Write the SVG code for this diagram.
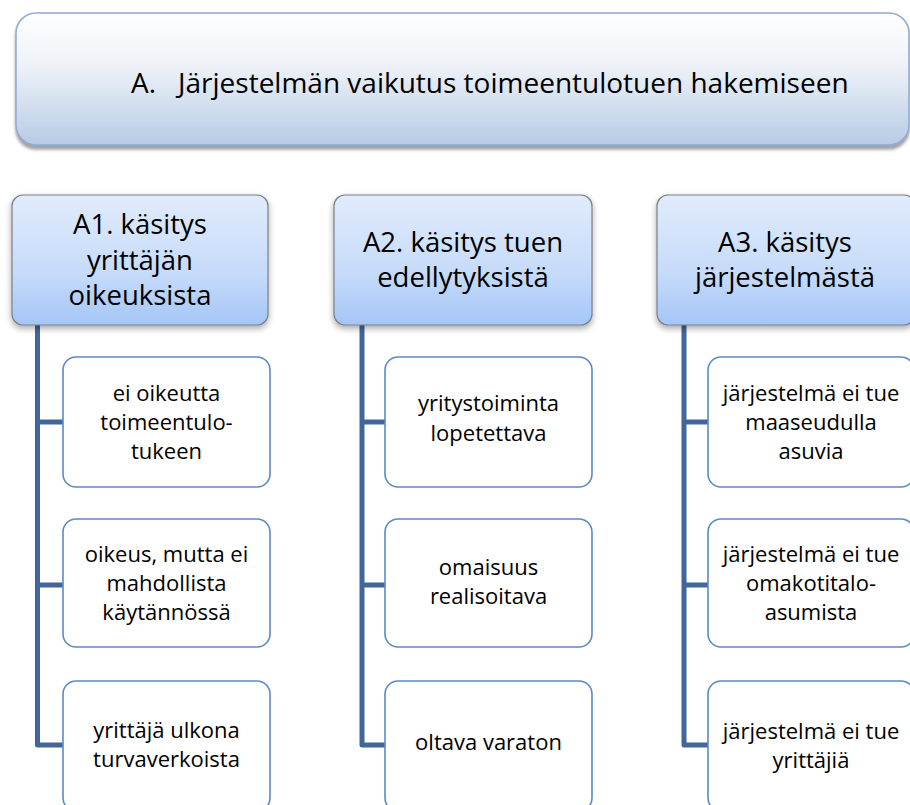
<svg xmlns="http://www.w3.org/2000/svg" width="910" height="805" viewBox="0 0 910 805">
<defs>
<linearGradient id="gBanner" x1="0" y1="0" x2="0" y2="1">
<stop offset="0" stop-color="#ffffff"/>
<stop offset="0.4" stop-color="#eef2f8"/>
<stop offset="1" stop-color="#b7cbe5"/>
</linearGradient>
<linearGradient id="gHead" x1="0" y1="0" x2="0" y2="1">
<stop offset="0" stop-color="#e1ecfc"/>
<stop offset="0.6" stop-color="#c6dbfa"/>
<stop offset="1" stop-color="#a4c6f6"/>
</linearGradient>
<filter id="shBanner" x="-5%" y="-10%" width="110%" height="130%">
<feDropShadow dx="0" dy="4" stdDeviation="1.5" flood-color="#555" flood-opacity="0.55"/>
</filter>
<filter id="shHead" x="-10%" y="-10%" width="120%" height="130%">
<feDropShadow dx="0" dy="3" stdDeviation="3" flood-color="#000" flood-opacity="0.35"/>
</filter>
</defs>
<style>
text{font-family:"Open Sans","Liberation Sans",Arial,sans-serif;fill:#000;text-anchor:middle}
.banner{fill:url(#gBanner);stroke:#8eaad6;stroke-width:1.5;filter:url(#shBanner)}
.head{fill:url(#gHead);stroke:#7a7f88;stroke-width:1.2;filter:url(#shHead)}
.ht{font-size:27.5px}
.child{fill:#fff;stroke:#5b8ac6;stroke-width:1.6}
.ct{font-size:22px}
.conn{fill:none;stroke:#41669c;stroke-width:5;stroke-linejoin:round}
</style>

<g id="banner">
<rect class="banner" x="16" y="13" width="893" height="132" rx="20"/>
<text x="131" y="93" font-size="28" style="text-anchor:start">A.</text>
<text x="178" y="93" font-size="28" style="text-anchor:start">Järjestelmän vaikutus toimeentulotuen hakemiseen</text>
</g>

<g id="connectors">
<path class="conn" d="M37.5 325 V745 H63 M37.5 422 H63 M37.5 585 H63"/>
<path class="conn" d="M362 325 V745 H385 M362 422 H385 M362 585 H385"/>
<path class="conn" d="M684 325 V745 H708 M684 422 H708 M684 585 H708"/>
</g>

<g id="A1">
<rect class="head" x="12" y="195" width="256" height="130" rx="11"/>
<text class="ht" x="140" y="234">A1. käsitys</text>
<text class="ht" x="140" y="270">yrittäjän</text>
<text class="ht" x="140" y="305">oikeuksista</text>
</g>
<g id="A2">
<rect class="head" x="334" y="195" width="258" height="130" rx="11"/>
<text class="ht" x="463" y="252">A2. käsitys tuen</text>
<text class="ht" x="463" y="287">edellytyksistä</text>
</g>
<g id="A3">
<rect class="head" x="657" y="195" width="258" height="130" rx="11"/>
<text class="ht" x="785" y="252">A3. käsitys</text>
<text class="ht" x="785" y="287">järjestelmästä</text>
</g>

<g id="A1-1">
<rect class="child" x="63" y="357" width="207" height="130" rx="13"/>
<text class="ct" x="166.5" y="401">ei oikeutta</text>
<text class="ct" x="166.5" y="430">toimeentulo-</text>
<text class="ct" x="166.5" y="459">tukeen</text>
</g>
<g id="A1-2">
<rect class="child" x="63" y="519" width="207" height="128" rx="13"/>
<text class="ct" x="166.5" y="562">oikeus, mutta ei</text>
<text class="ct" x="166.5" y="591">mahdollista</text>
<text class="ct" x="166.5" y="620">käytännössä</text>
</g>
<g id="A1-3">
<rect class="child" x="63" y="681" width="207" height="130" rx="13"/>
<text class="ct" x="166.5" y="738">yrittäjä ulkona</text>
<text class="ct" x="166.5" y="767">turvaverkoista</text>
</g>

<g id="A2-1">
<rect class="child" x="385" y="357" width="207" height="130" rx="13"/>
<text class="ct" x="488.5" y="411">yritystoiminta</text>
<text class="ct" x="488.5" y="441">lopetettava</text>
</g>
<g id="A2-2">
<rect class="child" x="385" y="519" width="207" height="128" rx="13"/>
<text class="ct" x="488.5" y="575">omaisuus</text>
<text class="ct" x="488.5" y="604">realisoitava</text>
</g>
<g id="A2-3">
<rect class="child" x="385" y="681" width="207" height="130" rx="13"/>
<text class="ct" x="488.5" y="750">oltava varaton</text>
</g>

<g id="A3-1">
<rect class="child" x="708" y="357" width="206" height="130" rx="13"/>
<text class="ct" x="811" y="401">järjestelmä ei tue</text>
<text class="ct" x="811" y="430">maaseudulla</text>
<text class="ct" x="811" y="459">asuvia</text>
</g>
<g id="A3-2">
<rect class="child" x="708" y="519" width="206" height="128" rx="13"/>
<text class="ct" x="811" y="562">järjestelmä ei tue</text>
<text class="ct" x="811" y="591">omakotitalo-</text>
<text class="ct" x="811" y="620">asumista</text>
</g>
<g id="A3-3">
<rect class="child" x="708" y="681" width="206" height="130" rx="13"/>
<text class="ct" x="811" y="739">järjestelmä ei tue</text>
<text class="ct" x="811" y="768">yrittäjiä</text>
</g>
</svg>
